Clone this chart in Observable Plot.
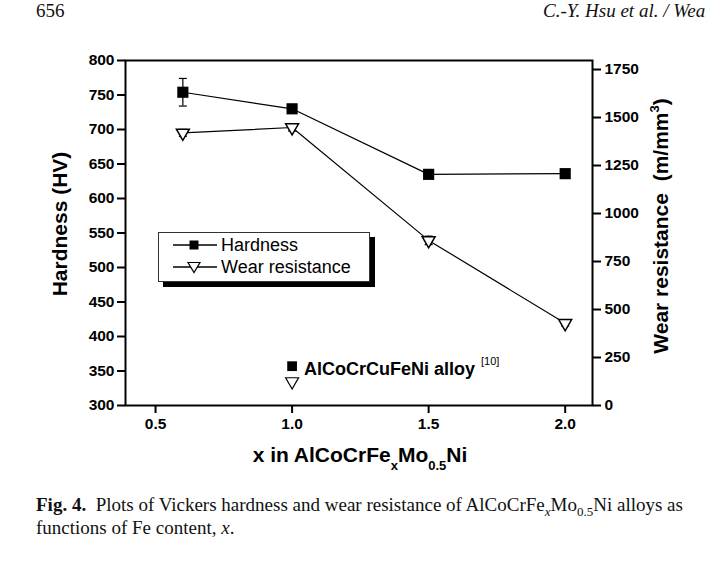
<!DOCTYPE html>
<html>
<head>
<meta charset="utf-8">
<script src="https://cdn.jsdelivr.net/npm/d3@7"></script>
<script src="https://cdn.jsdelivr.net/npm/@observablehq/plot@0.6"></script>
<style>
  html, body { margin: 0; padding: 0; background: #fff; }
  body { position: relative; width: 708px; height: 580px; overflow: hidden; font-family: "Liberation Sans", Arial, sans-serif; }
  #chart { position: absolute; left: 0; top: 0; }
  .abs { position: absolute; white-space: nowrap; }
  .hdr { font-family: "Liberation Serif", serif; font-size: 19px; color: #111; top: 0px; }
  .ytitle { font-weight: bold; font-size: 21px; transform: translate(-50%, -50%) rotate(-90deg); transform-origin: center; }
  .xtitle { font-weight: bold; font-size: 21px; transform: translate(-50%, -50%); }
  .xtitle sub { font-size: 13px; vertical-align: -8px; line-height: 0; }
  .ytitle sup { font-size: 13px; vertical-align: 9px; line-height: 0; }
  #legend { left: 158px; top: 232px; width: 210px; height: 48px; border: 1px solid #333; background: #fff; box-shadow: 5px 5px 0 #000; font-size: 18px; }
  #legend .row { position: absolute; left: 13px; height: 22px; display: flex; align-items: center; }
  #legend .row span { margin-left: 3px; }
  .caption { font-family: "Liberation Serif", serif; font-size: 19px; color: #111; left: 36px; }
  .note { font-weight: bold; font-size: 18px; }
  .note sup { font-size: 11px; font-weight: normal; vertical-align: 10px; line-height: 0; margin-left: 6px; }
</style>
</head>
<body>
<div id="chart"></div>
<div class="abs hdr" style="left:36px;">656</div>
<div class="abs hdr" style="left:543px; font-style:italic;">C.-Y. Hsu et al. / Wea</div>
<div class="abs ytitle" style="left:60px; top:224px;">Hardness (HV)</div>
<div class="abs ytitle" style="left:661px; top:226px;">Wear resistance&nbsp; (m/mm<sup>3</sup>)</div>
<div class="abs xtitle" style="left:360px; top:455px;">x in AlCoCrFe<sub>x</sub>Mo<sub>0.5</sub>Ni</div>
<div class="abs note" style="left:304px; top:359px;">AlCoCrCuFeNi alloy<sup>[10]</sup></div>
<div class="abs" id="legend">
  <div class="row" style="top:1px;">
    <svg width="46" height="14"><line x1="1" y1="7" x2="45" y2="7" stroke="#000" stroke-width="1.3"/><rect x="17.5" y="2.5" width="9" height="9" fill="#000"/></svg>
    <span>Hardness</span>
  </div>
  <div class="row" style="top:23px;">
    <svg width="46" height="14"><line x1="1" y1="7" x2="45" y2="7" stroke="#000" stroke-width="1.3"/><path d="M16,2.5 L28,2.5 L22,12.5 Z" fill="#fff" stroke="#000" stroke-width="1.2"/></svg>
    <span>Wear resistance</span>
  </div>
</div>
<div class="abs caption" style="top:494px;"><b>Fig. 4.</b>&nbsp; Plots of Vickers hardness and wear resistance of AlCoCrFe<sub style="font-style:italic;font-size:13px;">x</sub>Mo<sub style="font-size:13px;">0.5</sub>Ni alloys as</div>
<div class="abs caption" style="top:517px;">functions of Fe content, <i>x</i>.</div>
<script>
// ---- data ----
const feContent   = [0.6, 1.0, 1.5, 2.0];
const hardness    = [754, 730, 635, 636];
const hardnessErr = [20, 5, 3, 3];
const wearRes     = [1420, 1448, 860, 428];
const wearErr     = [18, 18, 22, 14];
const refX        = [1.0];
const refHardness = [357];
const refWear     = [125];
const xTicks      = [0.5, 1.0, 1.5, 2.0];
const hvTicks     = [300, 350, 400, 450, 500, 550, 600, 650, 700, 750, 800];
const wearTicks   = [0, 250, 500, 750, 1000, 1250, 1500, 1750];
const hvDomain    = [300, 800];
const wearDomain  = [0, 1797];

// map the right-hand (wear) axis onto the left (hardness) scale
const w2h = w => hvDomain[0] + (w - wearDomain[0]) * (hvDomain[1] - hvDomain[0]) / (wearDomain[1] - wearDomain[0]);
const h2w = h => wearDomain[0] + (h - hvDomain[0]) * (wearDomain[1] - wearDomain[0]) / (hvDomain[1] - hvDomain[0]);

const hData = feContent.map((x, i) => ({x, y: hardness[i], lo: hardness[i] - hardnessErr[i], hi: hardness[i] + hardnessErr[i]}));
const wData = feContent.map((x, i) => ({x, y: w2h(wearRes[i]), lo: w2h(wearRes[i] - wearErr[i]), hi: w2h(wearRes[i] + wearErr[i])}));
const refH = refX.map((x, i) => ({x, y: refHardness[i]}));
const refW = refX.map((x, i) => ({x, y: w2h(refWear[i])}));

const cap = {draw(ctx) { ctx.moveTo(-4, 0); ctx.lineTo(4, 0); }};

const chart = Plot.plot({
  width: 708, height: 480,
  marginLeft: 125, marginRight: 116, marginTop: 60, marginBottom: 75,
  style: {fontFamily: "Liberation Sans, Arial, sans-serif", fontSize: "15px", color: "#000", background: "transparent"},
  x: {domain: [0.39, 2.1]},
  y: {domain: hvDomain},
  marks: [
    Plot.axisY(hvTicks, {anchor: "left", tickSize: 8, tickPadding: 3, strokeWidth: 2, fontWeight: "bold", fontSize: 15.5, label: null}),
    Plot.axisY(wearTicks.map(w2h), {anchor: "right", tickSize: 8, tickPadding: 4, strokeWidth: 2, fontWeight: "bold", fontSize: 15.5, label: null, tickFormat: d => String(Math.round(h2w(d)))}),
    Plot.axisX(xTicks, {anchor: "bottom", tickSize: 8, tickPadding: 4, strokeWidth: 2, fontWeight: "bold", fontSize: 15.5, label: null, tickFormat: d3.format(".1f")}),
    Plot.line(hData, {x: "x", y: "y", stroke: "#000", strokeWidth: 1.2}),
    Plot.line(wData, {x: "x", y: "y", stroke: "#000", strokeWidth: 1.2}),
    Plot.ruleX(hData, {x: "x", y1: "lo", y2: "hi", stroke: "#000", strokeWidth: 1.2}),
    Plot.dot(hData, {x: "x", y: "lo", symbol: cap, stroke: "#000", strokeWidth: 1.2}),
    Plot.dot(hData, {x: "x", y: "hi", symbol: cap, stroke: "#000", strokeWidth: 1.2}),
    Plot.ruleX(wData, {x: "x", y1: "lo", y2: "hi", stroke: "#000", strokeWidth: 1.2}),
    Plot.dot(wData, {x: "x", y: "lo", symbol: cap, stroke: "#000", strokeWidth: 1.2}),
    Plot.dot(wData, {x: "x", y: "hi", symbol: cap, stroke: "#000", strokeWidth: 1.2}),
    Plot.dot(hData, {x: "x", y: "y", symbol: "square", fill: "#000", r: 6.3}),
    Plot.dot(wData, {x: "x", y: "y", symbol: "triangle", rotate: 180, fill: "#fff", stroke: "#000", strokeWidth: 1.5, r: 4.8}),
    Plot.dot(refH, {x: "x", y: "y", symbol: "square", fill: "#000", r: 5.5}),
    Plot.dot(refW, {x: "x", y: "y", symbol: "triangle", rotate: 180, fill: "#fff", stroke: "#000", strokeWidth: 1.2, r: 4.8}),
    Plot.frame({stroke: "#000", strokeWidth: 2})
  ]
});
document.getElementById("chart").appendChild(chart);
</script>
</body>
</html>
